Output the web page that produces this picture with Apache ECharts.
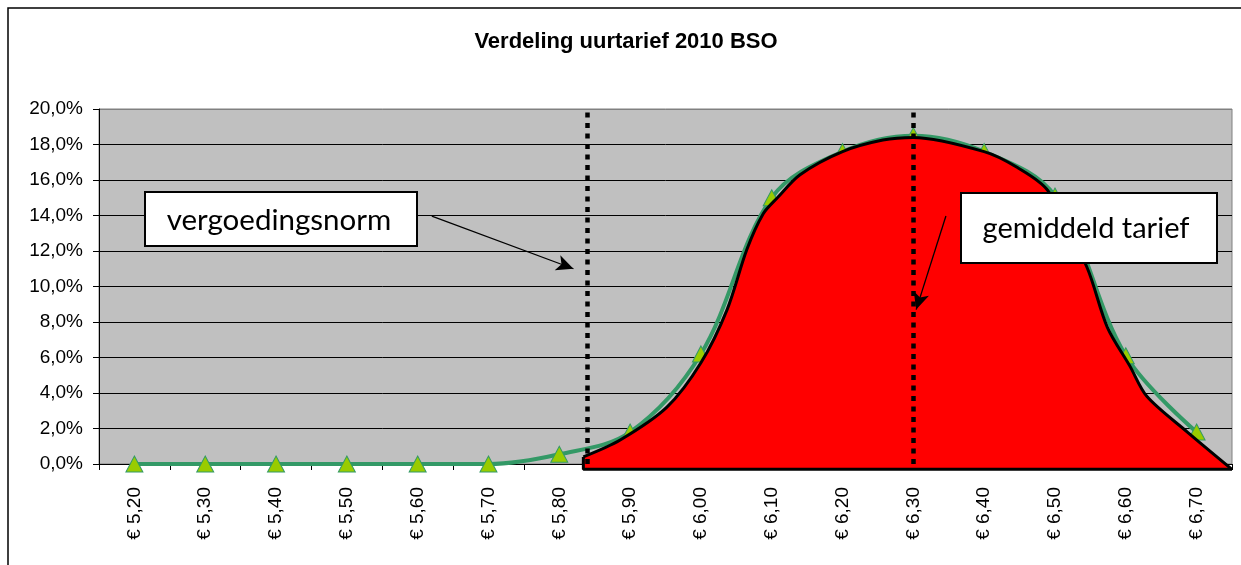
<!DOCTYPE html>
<html>
<head>
<meta charset="utf-8">
<script src="https://cdn.jsdelivr.net/npm/echarts@6/dist/echarts.min.js"></script>
<style>
  html, body { margin: 0; padding: 0; background: #fff; }
  #chart { width: 1241px; height: 565px; }
</style>
</head>
<body>
<div id="chart"></div>
<script>
// tariff categories on the x axis
const categories = ['€ 5,20', '€ 5,30', '€ 5,40', '€ 5,50', '€ 5,60', '€ 5,70', '€ 5,80', '€ 5,90',
  '€ 6,00', '€ 6,10', '€ 6,20', '€ 6,30', '€ 6,40', '€ 6,50', '€ 6,60', '€ 6,70'];

// share of locations per tariff (%)
const greenY = [0, 0, 0, 0, 0, 0, 0.55, 1.8, 6.2, 15.0, 17.6, 18.5, 17.6, 15.1, 6.1, 1.8];

// red shaded area above the norm (tariff in euro, %)
const redX = [5.834, 5.886, 5.952, 6.0, 6.037, 6.065, 6.088, 6.108, 6.14, 6.2, 6.257, 6.3,
  6.4, 6.447, 6.49, 6.545, 6.574, 6.606, 6.63, 6.687, 6.75];
const redY = [0.4, 1.35, 3.2, 5.7, 8.7, 12.1, 14.1, 15.0, 16.3, 17.6, 18.25, 18.4,
  17.6, 16.7, 15.4, 11.1, 7.7, 5.5, 3.8, 1.8, -0.3];
const redBase = -0.3;

// vertical reference lines (euro)
const normTariff = 5.836;
const meanTariff = 6.30;

// annotation arrows: [fromX, fromY, toX, toY]
const normArrow = [5.62, 13.97, 5.82, 11.0];
const meanArrow = [6.346, 13.97, 6.304, 8.7];

const chart = echarts.init(document.getElementById('chart'), null, { renderer: 'canvas' });

const fmtPct = v => v.toFixed(1).replace('.', ',') + '%';

const arrowLine = a => [
  { coord: [a[0], a[1]], symbol: 'none' },
  { coord: [a[2], a[3]], symbol: 'arrow', symbolSize: [12, 17] }
];

const option = {
  animation: false,
  backgroundColor: '#fff',
  title: {
    text: 'Verdeling uurtarief 2010 BSO',
    left: 626,
    top: 31,
    padding: 0,
    textAlign: 'center',
    textStyle: { fontFamily: 'Liberation Sans, Arial', fontWeight: 'bold', fontSize: 22, color: '#000' }
  },
  grid: {
    left: 99, top: 109, right: 9, bottom: 101,
    show: true, backgroundColor: '#C0C0C0', borderColor: '#808080', borderWidth: 1
  },
  xAxis: [{
    type: 'category',
    data: categories,
    boundaryGap: true,
    axisLine: { lineStyle: { color: '#000', width: 1 } },
    axisTick: { show: true, length: 6, lineStyle: { color: '#000' } },
    axisLabel: { rotate: 90, margin: 23, color: '#000', fontSize: 19, fontFamily: 'Liberation Sans, Arial' }
  }, {
    type: 'value', min: 5.15, max: 6.75, show: false
  }],
  yAxis: {
    type: 'value', min: 0, max: 20, interval: 2,
    axisLine: { show: true, lineStyle: { color: '#000' } },
    axisTick: { show: true, length: 6, lineStyle: { color: '#000' } },
    axisLabel: { formatter: fmtPct, margin: 16, color: '#000', fontSize: 19, fontFamily: 'Liberation Sans, Arial' },
    splitLine: { lineStyle: { color: ['#000', '#000', '#000', '#000', '#000', '#000', '#000', '#000', '#000', '#000', '#808080'], width: 1 } }
  },
  series: [{
    type: 'line',
    data: greenY,
    smooth: 0.35,
    symbol: 'triangle',
    symbolSize: [17, 16],
    itemStyle: { color: '#99CC00', borderColor: '#339966', borderWidth: 1 },
    lineStyle: { color: '#339966', width: 4 },
    z: 2
  }, {
    type: 'line',
    xAxisIndex: 1,
    data: redX.map((x, i) => [x, redY[i]]),
    smooth: 0.3,
    symbol: 'none',
    clip: false,
    lineStyle: { color: '#000', width: 3 },
    areaStyle: { color: '#FF0000', opacity: 1, origin: redBase },
    z: 3
  }, {
    type: 'line',
    xAxisIndex: 1,
    data: [[redX[0], redY[0]], [redX[0], redBase], [redX[redX.length - 1], redBase]],
    symbol: 'none',
    clip: false,
    lineStyle: { color: '#000', width: 3 },
    z: 3
  }, {
    type: 'line',
    xAxisIndex: 1,
    data: [],
    z: 4,
    markLine: {
      silent: true,
      symbol: 'none',
      label: { show: false },
      lineStyle: { color: '#000', width: 4.5, type: [5, 5.5] },
      data: [{ xAxis: normTariff }, { xAxis: meanTariff }]
    }
  }, {
    type: 'line',
    xAxisIndex: 1,
    data: [],
    z: 5,
    markLine: {
      silent: true,
      label: { show: false },
      lineStyle: { color: '#000', width: 1.3, type: 'solid' },
      data: [arrowLine(normArrow), arrowLine(meanArrow)]
    }
  }],
  graphic: [{
    type: 'rect',
    shape: { x: 8, y: 8, width: 1300, height: 600 },
    style: { fill: 'none', stroke: '#000', lineWidth: 1.5 },
    silent: true, z: 0
  }, {
    type: 'rect',
    shape: { x: 145, y: 192, width: 272, height: 54 },
    style: { fill: '#fff', stroke: '#000', lineWidth: 2 },
    z: 10
  }, {
    type: 'text',
    x: 279, y: 220,
    style: { text: 'vergoedingsnorm', fill: '#000', font: '29.5px Lato', align: 'center', verticalAlign: 'middle' },
    z: 11
  }, {
    type: 'rect',
    shape: { x: 961, y: 193, width: 256, height: 70 },
    style: { fill: '#fff', stroke: '#000', lineWidth: 2 },
    z: 10
  }, {
    type: 'text',
    x: 1086, y: 229,
    style: { text: 'gemiddeld tarief', fill: '#000', font: '29px Lato', align: 'center', verticalAlign: 'middle' },
    z: 11
  }]
};

chart.setOption(option);
</script>
</body>
</html>
